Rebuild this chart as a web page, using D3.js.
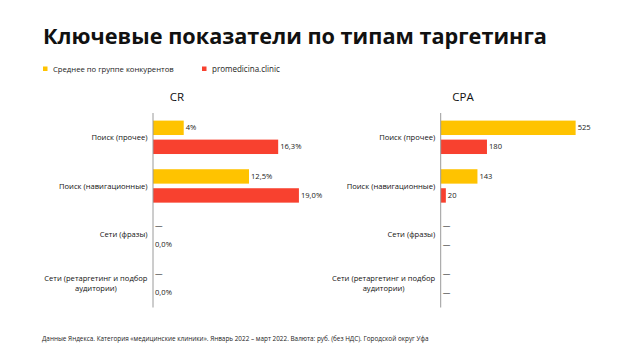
<!DOCTYPE html>
<html><head><meta charset="utf-8">
<script src="https://cdn.jsdelivr.net/npm/d3@7"></script>
<style>body{margin:0;background:#fff}svg{display:block}</style>
</head><body>
<svg id="c" width="640" height="360"></svg>
<script>
const titleText = "Ключевые показатели по типам таргетинга";
const seriesNames = ["Среднее по группе конкурентов", "promedicina.clinic"];
const categories = ["Поиск (прочее)", "Поиск (навигационные)", "Сети (фразы)", "Сети (ретаргетинг и подбор\nаудитории)"];
const crCompetitors = [4, 12.5, null, null];
const crClinic = [16.3, 19.0, 0, 0];
const crCompetitorsLabels = ["4%", "12,5%", "—", "—"];
const crClinicLabels = ["16,3%", "19,0%", "0,0%", "0,0%"];
const cpaCompetitors = [525, 143, null, null];
const cpaClinic = [180, 20, null, null];
const cpaCompetitorsLabels = ["525", "143", "—", "—"];
const cpaClinicLabels = ["180", "20", "—", "—"];
const footnote = "Данные Яндекса. Категория «медицинские клиники». Январь 2022 – март 2022. Валюта: руб. (без НДС). Городской округ Уфа";

const colors = ["#FFC300", "#F8412F"];
const font = "'Open Sans', sans-serif";
const svg = d3.select("#c");

function fit(sel, w) {
  const len = sel.node().getComputedTextLength();
  const fs = parseFloat(sel.attr("font-size"));
  sel.attr("font-size", fs * w / len);
}

fit(svg.append("text").attr("x", 43).attr("y", 44).attr("font-family", font)
  .attr("font-weight", 700).attr("font-size", 24).attr("fill", "#111").text(titleText), 504);

// legend
const legX = [43, 202];
const legW = [121, 68];
seriesNames.forEach((n, i) => {
  svg.append("rect").attr("x", legX[i]).attr("y", 66.5).attr("width", 4.5).attr("height", 4.5).attr("fill", colors[i]);
  fit(svg.append("text").attr("x", legX[i] + 10).attr("y", 69).attr("dy", "0.35em")
    .attr("font-family", font).attr("font-size", 7).attr("fill", "#222").text(n), legW[i]);
});

function panel(opt) {
  const x = d3.scaleLinear().domain(opt.domain).range(opt.range);
  const y = d3.scaleBand().domain(categories).range([113, 307.5]).padding(0);
  const sub = d3.scaleBand().domain([0, 1]).range([0, y.bandwidth()]).paddingInner(0.242).paddingOuter(0.4);
  const g = svg.append("g");
  g.append("text").attr("x", opt.titleX).attr("y", 97).attr("dy", "0.35em").attr("text-anchor", "middle")
    .attr("font-family", font).attr("font-size", 11.5).attr("fill", "#111").text(opt.title);
  [opt.a, opt.b].forEach((vals, si) => {
    const labels = si === 0 ? opt.la : opt.lb;
    categories.forEach((c, i) => {
      const v = vals[i];
      const yy = y(c) + sub(si);
      let endX = x(0);
      if (v !== null && v > 0) {
        g.append("rect").attr("x", x(0)).attr("y", yy).attr("width", x(v) - x(0))
          .attr("height", sub.bandwidth()).attr("fill", colors[si]);
        endX = x(v);
      }
      g.append("text").attr("x", endX + 2).attr("y", yy + sub.bandwidth() / 2).attr("dy", "0.35em")
        .attr("font-family", font).attr("font-size", 7.6).attr("fill", "#222").text(labels[i]);
    });
  });
  g.append("line").attr("x1", x(0)).attr("x2", x(0)).attr("y1", 113).attr("y2", 307.5)
    .attr("stroke", "#9a9a9a").attr("stroke-width", 1);
  categories.forEach(c => {
    const lines = c.split("\n");
    const cy = y(c) + y.bandwidth() / 2;
    const t = g.append("text").attr("font-family", font).attr("font-size", 7.6).attr("fill", "#111");
    const lh = 10;
    const tspans = lines.map((l, k) => t.append("tspan").attr("y", cy + (k - (lines.length - 1) / 2) * lh).attr("dy", "0.35em").text(l));
    let maxW = 0;
    tspans.forEach(ts => { maxW = Math.max(maxW, ts.node().getComputedTextLength()); });
    const right = x(0) - 5.5;
    tspans.forEach(ts => ts.attr("x", right - maxW / 2));
    t.attr("text-anchor", "middle");
  });
}

panel({ title: "CR", titleX: 177, domain: [0, 20], range: [153, 306.6], a: crCompetitors, b: crClinic, la: crCompetitorsLabels, lb: crClinicLabels });
panel({ title: "CPA", titleX: 463, domain: [0, 600], range: [440.7, 594.9], a: cpaCompetitors, b: cpaClinic, la: cpaCompetitorsLabels, lb: cpaClinicLabels });

fit(svg.append("text").attr("x", 42).attr("y", 339).attr("dy", "0.35em").attr("font-family", font)
  .attr("font-size", 6.5).attr("fill", "#222").text(footnote), 388);
</script>
</body></html>
